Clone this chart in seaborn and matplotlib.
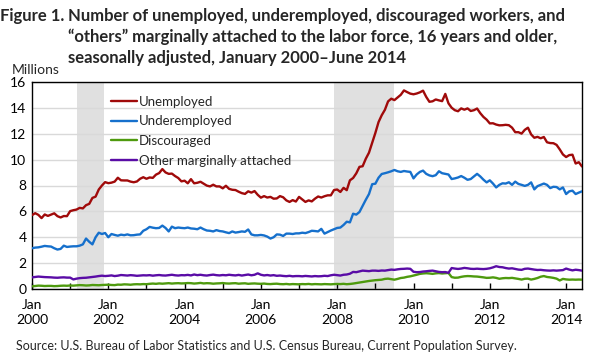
# plot.py
# Figure 1 - unemployed / underemployed / discouraged / other marginally attached
# monthly, Jan 2000 - Jun 2014, millions

import numpy as np
import pandas as pd
import matplotlib
matplotlib.use("Agg")
import matplotlib.pyplot as plt
import seaborn as sns

years = list(range(2000, 2015))

unemployed = [
    5.71, 5.86, 5.73, 5.48, 5.76, 5.65, 5.75, 5.85, 5.63, 5.53, 5.64, 5.63,  # 2000
    6.02, 6.09, 6.14, 6.27, 6.23, 6.48, 6.58, 7.04, 7.14, 7.69, 8.00, 8.26,  # 2001
    8.18, 8.22, 8.30, 8.60, 8.40, 8.39, 8.39, 8.30, 8.25, 8.31, 8.52, 8.64,  # 2002
    8.52, 8.62, 8.59, 8.84, 8.96, 9.27, 9.01, 8.90, 8.92, 8.73, 8.58, 8.32,  # 2003
    8.37, 8.17, 8.49, 8.17, 8.21, 8.29, 8.14, 7.99, 7.93, 8.06, 7.93, 7.93,  # 2004
    7.78, 7.98, 7.74, 7.67, 7.65, 7.52, 7.41, 7.35, 7.55, 7.45, 7.57, 7.28,  # 2005
    7.06, 7.18, 7.07, 7.12, 6.98, 7.00, 7.18, 7.09, 6.85, 6.73, 6.87, 6.76,  # 2006
    7.12, 6.93, 6.73, 6.85, 6.77, 6.98, 7.15, 7.07, 7.17, 7.24, 7.24, 7.65,  # 2007
    7.69, 7.50, 7.82, 7.64, 8.40, 8.58, 8.94, 9.44, 9.49, 10.07, 10.54, 11.29,  # 2008
    12.06, 12.90, 13.43, 13.85, 14.50, 14.71, 14.60, 14.81, 15.01, 15.35, 15.22, 15.10,  # 2009
    15.05, 15.11, 15.20, 15.33, 14.85, 14.47, 14.51, 14.65, 14.58, 14.52, 15.08, 14.35,  # 2010
    14.01, 13.82, 13.74, 13.96, 13.86, 13.96, 13.76, 13.82, 13.95, 13.59, 13.30, 13.09,  # 2011
    12.80, 12.81, 12.71, 12.65, 12.66, 12.69, 12.66, 12.47, 12.12, 12.12, 12.01, 12.30,  # 2012
    12.47, 11.95, 11.69, 11.76, 11.65, 11.75, 11.34, 11.28, 11.27, 11.14, 10.79, 10.40,  # 2013
    10.20, 10.35, 10.38, 9.70, 9.80, 9.47,  # 2014
]

underemployed = [
    3.15, 3.20, 3.22, 3.27, 3.33, 3.30, 3.28, 3.15, 3.05, 3.10, 3.35, 3.25,  # 2000
    3.28, 3.30, 3.30, 3.35, 3.45, 3.90, 3.65, 3.45, 4.00, 4.35, 4.25, 4.33,  # 2001
    4.00, 4.25, 4.18, 4.12, 4.20, 4.16, 4.22, 4.15, 4.16, 4.20, 4.22, 4.50,  # 2002
    4.62, 4.80, 4.74, 4.70, 4.72, 4.90, 4.72, 4.45, 4.82, 4.70, 4.75, 4.72,  # 2003
    4.70, 4.75, 4.68, 4.66, 4.62, 4.75, 4.62, 4.52, 4.50, 4.45, 4.55, 4.48,  # 2004
    4.45, 4.38, 4.32, 4.45, 4.36, 4.40, 4.45, 4.42, 4.60, 4.22, 4.15, 4.15,  # 2005
    4.18, 4.14, 4.05, 3.90, 4.00, 4.22, 4.20, 4.10, 4.28, 4.28, 4.25, 4.30,  # 2006
    4.30, 4.35, 4.32, 4.40, 4.50, 4.48, 4.45, 4.65, 4.28, 4.40, 4.52, 4.62,  # 2007
    4.72, 4.75, 4.95, 5.20, 5.15, 5.82, 5.75, 5.95, 6.43, 6.90, 7.34, 8.10,  # 2008
    8.14, 8.60, 8.89, 8.95, 9.02, 9.10, 9.20, 9.10, 9.05, 9.12, 9.08, 9.05,  # 2009
    8.55, 8.85, 9.05, 9.15, 8.90, 8.78, 8.72, 8.80, 9.10, 8.95, 8.90, 8.85,  # 2010
    8.50, 8.55, 8.62, 8.73, 8.60, 8.44, 8.50, 8.70, 8.90, 8.70, 8.45, 8.24,  # 2011
    8.40, 8.15, 7.85, 8.05, 8.17, 8.15, 8.25, 8.05, 8.30, 8.12, 8.05, 7.97,  # 2012
    8.05, 8.24, 7.70, 7.95, 8.05, 8.15, 8.05, 7.80, 7.90, 7.88, 7.70, 7.85,  # 2013
    7.34, 7.55, 7.60, 7.34, 7.45, 7.55,  # 2014
]

discouraged = [
    0.21, 0.23, 0.26, 0.25, 0.23, 0.24, 0.24, 0.22, 0.23, 0.25, 0.26, 0.25,  # 2000
    0.27, 0.26, 0.28, 0.30, 0.29, 0.27, 0.28, 0.31, 0.30, 0.29, 0.31, 0.32,  # 2001
    0.33, 0.31, 0.30, 0.34, 0.33, 0.36, 0.35, 0.33, 0.36, 0.37, 0.36, 0.38,  # 2002
    0.37, 0.40, 0.42, 0.40, 0.43, 0.41, 0.43, 0.45, 0.42, 0.44, 0.45, 0.43,  # 2003
    0.44, 0.46, 0.45, 0.42, 0.44, 0.47, 0.43, 0.45, 0.44, 0.41, 0.43, 0.44,  # 2004
    0.46, 0.43, 0.42, 0.44, 0.45, 0.41, 0.43, 0.44, 0.40, 0.42, 0.43, 0.41,  # 2005
    0.40, 0.42, 0.39, 0.38, 0.40, 0.41, 0.38, 0.37, 0.39, 0.36, 0.38, 0.37,  # 2006
    0.36, 0.38, 0.37, 0.39, 0.36, 0.38, 0.37, 0.36, 0.38, 0.37, 0.36, 0.38,  # 2007
    0.39, 0.38, 0.40, 0.37, 0.39, 0.42, 0.46, 0.50, 0.54, 0.58, 0.62, 0.65,  # 2008
    0.68, 0.70, 0.72, 0.78, 0.80, 0.76, 0.72, 0.78, 0.85, 0.88, 0.94, 0.98,  # 2009
    1.04, 1.10, 1.17, 1.20, 1.22, 1.20, 1.17, 1.21, 1.23, 1.20, 1.22, 1.24,  # 2010
    0.92, 0.87, 0.88, 0.94, 0.98, 1.00, 0.99, 0.97, 0.96, 0.93, 0.90, 0.86,  # 2011
    0.87, 0.90, 0.86, 0.79, 0.83, 0.85, 0.84, 0.86, 0.82, 0.78, 0.73, 0.79,  # 2012
    0.80, 0.73, 0.78, 0.85, 0.95, 1.00, 0.93, 0.90, 0.86, 0.80, 0.66, 0.78,  # 2013
    0.74, 0.72, 0.73, 0.72, 0.73, 0.72,  # 2014
]

other_attached = [
    0.90, 0.93, 0.96, 0.94, 0.92, 0.91, 0.90, 0.88, 0.87, 0.89, 0.90, 0.88,  # 2000
    0.88, 0.74, 0.80, 0.84, 0.86, 0.87, 0.90, 0.93, 0.96, 1.00, 1.03, 1.00,  # 2001
    1.02, 1.05, 1.00, 1.03, 1.08, 1.06, 1.04, 1.07, 1.05, 1.02, 1.04, 1.06,  # 2002
    1.05, 1.07, 1.03, 1.06, 1.08, 1.05, 1.04, 1.07, 1.10, 1.06, 1.04, 1.07,  # 2003
    1.06, 1.09, 1.05, 1.12, 1.07, 1.10, 1.06, 1.04, 1.08, 1.11, 1.07, 1.05,  # 2004
    1.08, 1.06, 1.10, 1.07, 1.05, 1.09, 1.04, 1.08, 1.12, 1.06, 1.10, 1.21,  # 2005
    1.10, 1.05, 1.08, 1.04, 1.07, 1.02, 1.04, 1.01, 0.99, 1.02, 0.98, 1.00,  # 2006
    1.00, 0.98, 1.01, 0.99, 0.97, 1.00, 0.98, 0.99, 1.02, 1.00, 1.06, 1.10,  # 2007
    1.07, 1.04, 1.10, 1.12, 1.18, 1.32, 1.30, 1.36, 1.42, 1.40, 1.38, 1.42,  # 2008
    1.42, 1.40, 1.43, 1.42, 1.46, 1.50, 1.48, 1.52, 1.55, 1.56, 1.58, 1.56,  # 2009
    1.33, 1.30, 1.31, 1.35, 1.37, 1.40, 1.42, 1.37, 1.32, 1.30, 1.31, 1.25,  # 2010
    1.62, 1.58, 1.55, 1.58, 1.63, 1.60, 1.56, 1.55, 1.57, 1.55, 1.54, 1.56,  # 2011
    1.60, 1.67, 1.76, 1.70, 1.68, 1.62, 1.58, 1.60, 1.55, 1.50, 1.48, 1.56,  # 2012
    1.58, 1.54, 1.50, 1.47, 1.48, 1.45, 1.43, 1.42, 1.44, 1.42, 1.44, 1.46,  # 2013
    1.58, 1.50, 1.44, 1.49, 1.46, 1.42,  # 2014
]

series_names = ["Unemployed", "Underemployed", "Discouraged", "Other marginally attached"]
series_colors = ["#A00A0A", "#1670CC", "#4E9A0E", "#5A0CA6"]

title_lines = [
    "Number of unemployed, underemployed, discouraged workers, and",
    "\u201cothers\u201d marginally attached to the labor force, 16 years and older,",
    "seasonally adjusted, January 2000\u2013June 2014",
]

# recessions (month index from Jan 2000): Mar-Nov 2001, Dec 2007-Jun 2009
recessions = [(14, 22.8), (95, 113.9)]

months = pd.date_range("2000-01-01", "2014-06-01", freq="MS")
n = len(months)
df = pd.DataFrame({
    "month": np.tile(np.arange(n), 4),
    "value": unemployed + underemployed + discouraged + other_attached,
    "series": np.repeat(series_names, n),
})

sns.set_style("white")
plt.rcParams["font.family"] = ["Lato", "DejaVu Sans"]

fig = plt.figure(figsize=(6.03, 3.6), dpi=100)
W, H = 603, 360
ax = fig.add_axes([32 / W, 1 - 289 / H, 550 / W, 207 / H])

for a, b in recessions:
    ax.axvspan(a, b, color="#E0E0E0", lw=0, zorder=0)

sns.lineplot(data=df, x="month", y="value", hue="series", hue_order=series_names,
             palette=series_colors, linewidth=1.7, ax=ax, legend=False, zorder=3)

ax.set_xlim(0, n - 1)
ax.set_ylim(0, 16)
ax.set_yticks(range(0, 17, 2))
ax.yaxis.grid(True, color="#D9D9D9", linewidth=1.0, zorder=1)
ax.set_axisbelow(True)
ax.tick_params(axis="y", length=0, pad=4, labelsize=10, colors="black")

jan_pos = [12 * (y - 2000) for y in years]
jan_labels = [f"Jan\n{y}" if y % 2 == 0 else "" for y in years]
ax.set_xticks(jan_pos)
ax.set_xticklabels(jan_labels, linespacing=1.3)
ax.tick_params(axis="x", direction="in", length=4, width=1, pad=7, labelsize=10,
               colors="black", bottom=True)
ax.set_xlabel("")
ax.set_ylabel("")
for s in ax.spines.values():
    s.set_color("black")
    s.set_linewidth(1.0)

# legend drawn as proxies inside the plot
handles = [plt.Line2D([], [], color=c, lw=1.7) for c in series_colors]
ax.legend(handles, series_names, loc="upper left", frameon=False, fontsize=9.5,
          bbox_to_anchor=(104 / W, 1 - 89 / H), bbox_transform=fig.transFigure,
          handlelength=2.0, handletextpad=0.15, labelspacing=0.58, borderpad=0)

fig.text(64 / W, 1 - 16 / H, "Figure 1.", fontsize=12, fontweight="bold",
         va="center", ha="right")
for i, line in enumerate(title_lines):
    fig.text(68 / W, 1 - (15.5 + 21.5 * i) / H, line, fontsize=12, fontweight="bold",
             va="center")
fig.text(12 / W, 1 - 70 / H, "Millions", fontsize=10, va="center")
fig.text(16 / W, 1 - 346 / H,
         "Source: U.S. Bureau of Labor Statistics and U.S. Census Bureau, Current Population Survey.",
         fontsize=9, va="center")

fig.savefig("out.png", dpi=100)
